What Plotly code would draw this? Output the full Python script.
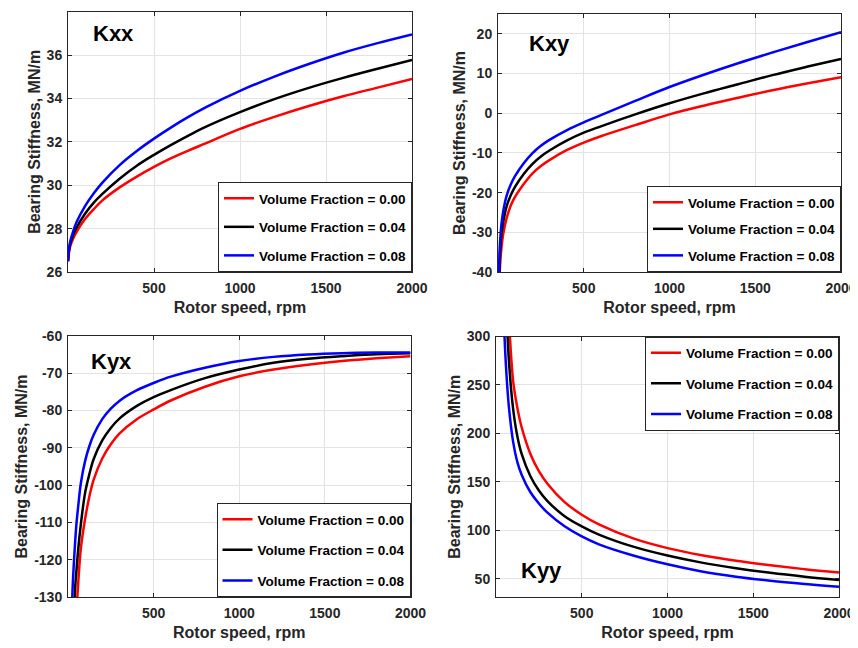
import plotly.graph_objects as go

# ---------------- data ----------------
series_names = ["Volume Fraction = 0.00", "Volume Fraction = 0.04", "Volume Fraction = 0.08"]
x_tick_vals = [500, 1000, 1500, 2000]
x_tick_text = ["500", "1000", "1500", "2000"]

kxx_rpm = [0, 10, 25, 50, 100, 150, 200, 300, 400, 500, 600, 700, 800, 1000, 1200, 1400, 1600, 1800, 2000]
kxx_vf000 = [26.5, 27.1, 27.45, 27.85, 28.45, 28.9, 29.3, 29.9, 30.4, 30.85, 31.25, 31.6, 31.93, 32.6, 33.15, 33.65, 34.1, 34.5, 34.9]
kxx_vf004 = [26.5, 27.2, 27.6, 28.05, 28.7, 29.2, 29.6, 30.3, 30.9, 31.4, 31.86, 32.29, 32.69, 33.37, 33.97, 34.49, 34.95, 35.37, 35.77]
kxx_vf008 = [26.5, 27.3, 27.75, 28.3, 29.05, 29.63, 30.12, 30.93, 31.58, 32.15, 32.67, 33.15, 33.59, 34.35, 35.01, 35.59, 36.11, 36.55, 36.95]
kxx_yticks = [26, 28, 30, 32, 34, 36, 38]
kxx_ytext = ["26", "28", "30", "32", "34", "36", "38"]

kxy_rpm = [3, 6, 10, 15, 20, 30, 50, 75, 100, 150, 200, 250, 300, 400, 500, 600, 800, 1000, 1200, 1400, 1600, 1800, 2000]
kxy_vf000 = [-60, -48, -40, -36.5, -34, -30.5, -26.5, -23.2, -21.0, -17.8, -15.2, -13.3, -11.8, -9.3, -7.4, -5.8, -3.0, -0.3, 1.9, 3.9, 5.8, 7.5, 9.1]
kxy_vf004 = [-55, -44, -37, -33, -30.5, -27.5, -23.5, -20.6, -18.5, -15.3, -12.8, -10.9, -9.4, -6.9, -4.9, -3.3, -0.3, 2.5, 5.0, 7.3, 9.6, 11.7, 13.7]
kxy_vf008 = [-50, -40, -34, -30.5, -28, -24.8, -20.8, -17.9, -15.8, -12.6, -10.1, -8.2, -6.7, -4.3, -2.3, -0.5, 3.1, 6.6, 9.7, 12.6, 15.3, 17.9, 20.4]
kxy_yticks = [-40, -30, -20, -10, 0, 10, 20]
kxy_ytext = ["-40", "-30", "-20", "-10", "0", "10", "20"]

kyx_rpm = [20, 25, 30, 40, 50, 60, 75, 100, 125, 150, 200, 250, 300, 400, 500, 600, 800, 1000, 1200, 1400, 1600, 1800, 2000]
kyx_vf000 = [-190, -175, -162, -145, -134, -126, -117, -109, -103, -98.5, -92.85, -89.05, -86.2, -82.4, -79.7, -77.3, -73.6, -70.8, -69.0, -67.7, -66.7, -66.0, -65.4]
kyx_vf004 = [-165, -155, -145, -129, -122.5, -117, -110.5, -102, -97, -93, -88.0, -84.66, -82.16, -78.82, -76.4, -74.5, -71.3, -69.0, -67.2, -66.1, -65.4, -64.9, -64.6]
kyx_vf008 = [-140, -130, -124.5, -116.5, -110, -105.5, -99.5, -93.5, -89.5, -86.5, -82.3, -79.5, -77.4, -74.6, -72.6, -70.9, -68.5, -66.7, -65.6, -64.95, -64.6, -64.45, -64.4]
kyx_yticks = [-130, -120, -110, -100, -90, -80, -70, -60]
kyx_ytext = ["-130", "-120", "-110", "-100", "-90", "-80", "-70", "-60"]

kyy_rpm = [30, 40, 50, 60, 75, 100, 125, 150, 200, 250, 300, 400, 500, 600, 800, 1000, 1200, 1400, 1600, 1800, 2000]
kyy_vf000 = [650, 550, 457, 385, 320, 254, 226, 206, 179, 161, 148, 129, 116, 106, 91.5, 81.5, 74.2, 68.5, 63.8, 59.7, 56.2]
kyy_vf004 = [580, 472, 386, 331, 276, 225, 196.5, 178.5, 156, 141, 130, 114.5, 104, 95.5, 83, 73.8, 66.5, 60.8, 56.0, 52.0, 48.6]
kyy_vf008 = [433, 349, 298.5, 264, 227.6, 191.2, 170, 157, 139.4, 127.5, 118.1, 104, 93.5, 85.4, 73.9, 64.8, 57.4, 52.0, 47.8, 44.4, 41.5]
kyy_yticks = [50, 100, 150, 200, 250, 300]
kyy_ytext = ["50", "100", "150", "200", "250", "300"]

panel_labels = ["Kxx", "Kxy", "Kyx", "Kyy"]
x_title = "Rotor speed, rpm"
y_title = "Bearing Stiffness, MN/m"

# ---------------- styling ----------------
colors = ["#ff0000", "#000000", "#0000ff"]
FONT = "Arial, Liberation Sans, sans-serif"
AX = "#262626"
GRID = "#e3e3e3"
OFF = 8                      # page body margin of the html page
W, H = 858 - OFF, 648 - OFF  # figure size so it fills the window exactly

def fx(X):
    return (X - OFF) / W

def fy(Y):
    return (648 - Y) / H

def px_dom_x(a, b):
    return [fx(a), fx(b)]

def px_dom_y(top, bottom):
    return [fy(bottom), fy(top)]

panels = [
    dict(rpm=kxx_rpm, ys=[kxx_vf000, kxx_vf004, kxx_vf008], xd=px_dom_x(68, 412), yd=px_dom_y(11.7, 272),
         yr=[26, 38], yt=kxx_yticks, ytt=kxx_ytext, leg="legend", gap=8),
    dict(rpm=kxy_rpm, ys=[kxy_vf000, kxy_vf004, kxy_vf008], xd=px_dom_x(498, 841), yd=px_dom_y(14, 272),
         yr=[-40, 25], yt=kxy_yticks, ytt=kxy_ytext, leg="legend2", gap=6),
    dict(rpm=kyx_rpm, ys=[kyx_vf000, kyx_vf004, kyx_vf008], xd=px_dom_x(68, 410.5), yd=px_dom_y(336, 597),
         yr=[-130, -60], yt=kyx_yticks, ytt=kyx_ytext, leg="legend3", gap=10),
    dict(rpm=kyy_rpm, ys=[kyy_vf000, kyy_vf004, kyy_vf008], xd=px_dom_x(496, 839), yd=px_dom_y(336.5, 597),
         yr=[31, 300], yt=kyy_yticks, ytt=kyy_ytext, leg="legend4", gap=10),
]

fig = go.Figure()
layout = dict(
    template="none",
    width=W, height=H,
    margin=dict(l=0, r=0, t=0, b=0, pad=0),
    paper_bgcolor="white", plot_bgcolor="white",
    font=dict(family=FONT, color=AX),
    showlegend=True,
)

tick_font = dict(family=FONT, size=14, color=AX, weight="bold")
title_font = dict(family=FONT, size=16, color=AX, weight="bold")

for i, p in enumerate(panels):
    n = "" if i == 0 else str(i + 1)
    xa, ya = "x" + n, "y" + n
    for j in range(3):
        fig.add_trace(go.Scatter(
            x=p["rpm"], y=p["ys"][j], mode="lines", name=series_names[j],
            line=dict(color=colors[j], width=2.5, shape="spline", smoothing=1.0),
            xaxis=xa, yaxis=ya, legend=p["leg"], legendgroup=f"g{i}{j}",
            cliponaxis=True,
        ))
    layout["xaxis" + n] = dict(
        domain=p["xd"], anchor=ya, range=[0, 2000], tickvals=x_tick_vals, ticktext=x_tick_text,
        showline=True, linecolor=AX, linewidth=1, mirror="ticks",
        ticks="inside", ticklen=4, tickcolor=AX, automargin=False,
        showgrid=True, gridcolor=GRID, gridwidth=1, zeroline=False,
        tickfont=tick_font, ticklabelstandoff=3,
        title=dict(text=x_title, font=title_font, standoff=7),
    )
    layout["yaxis" + n] = dict(
        domain=p["yd"], anchor=xa, range=p["yr"], tickvals=p["yt"], ticktext=p["ytt"],
        showline=True, linecolor=AX, linewidth=1, mirror="ticks",
        ticks="inside", ticklen=4, tickcolor=AX, automargin=False,
        showgrid=True, gridcolor=GRID, gridwidth=1, zeroline=False,
        tickfont=tick_font, ticklabelstandoff=2,
        title=dict(text=y_title, font=title_font, standoff=2),
    )

legend_common = dict(
    bgcolor="white", bordercolor=AX, borderwidth=1,
    font=dict(family=FONT, size=13.5, color="#000000", weight="bold"),
    xref="paper", yref="paper", orientation="v", itemwidth=30,
)
layout["legend"] = dict(legend_common, x=fx(412), y=fy(272), xanchor="right", yanchor="bottom",
                        tracegroupgap=panels[0]["gap"])
layout["legend2"] = dict(legend_common, x=fx(841), y=fy(272), xanchor="right", yanchor="bottom",
                         tracegroupgap=panels[1]["gap"])
layout["legend3"] = dict(legend_common, x=fx(410.5), y=fy(597), xanchor="right", yanchor="bottom",
                         tracegroupgap=panels[2]["gap"])
layout["legend4"] = dict(legend_common, x=fx(839), y=fy(336.5), xanchor="right", yanchor="top",
                         tracegroupgap=panels[3]["gap"])

# panel labels
label_pos = [("x domain", "y domain", 0.067, 0.916),
             ("x2 domain", "y2 domain", 0.085, 0.886),
             ("x3 domain", "y3 domain", 0.061, 0.904),
             ("x4 domain", "y4 domain", 0.067, 0.10)]
annotations = []
for k, (xr, yr_, ax_, ay_) in enumerate(label_pos):
    annotations.append(dict(
        text=panel_labels[k], xref=xr, yref=yr_, x=ax_, y=ay_,
        xanchor="left", yanchor="middle", showarrow=False,
        font=dict(family=FONT, size=22, color="#000000", weight="bold"),
    ))
layout["annotations"] = annotations

fig.update_layout(**layout)
fig.write_html("out.html")
